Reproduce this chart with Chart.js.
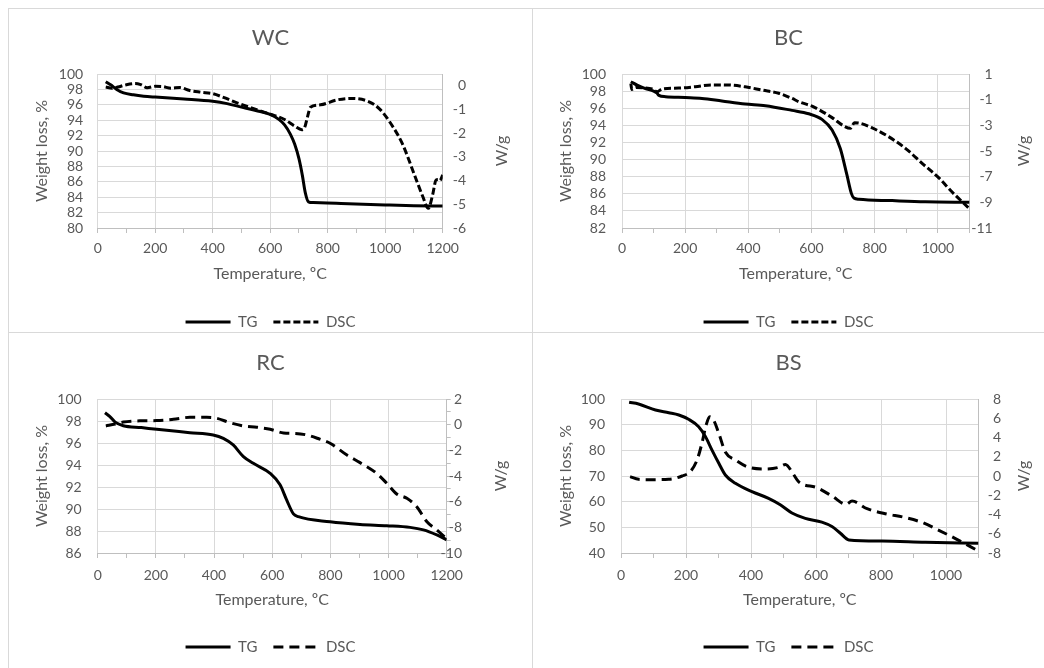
<!DOCTYPE html>
<html>
<head>
<meta charset="utf-8">
<script src="https://cdn.jsdelivr.net/npm/chart.js@4.4.1/dist/chart.umd.min.js"></script>
<style>
  body { margin: 0; background: #fff; width: 1044px; height: 668px; overflow: hidden; position: relative; }
  .box { position: absolute; }
  .rule { position: absolute; background: #d9d9d9; z-index: 5; }
</style>
</head>
<body>
<div class="rule" style="left:8px;top:8px;width:1036px;height:1px"></div>
<div class="rule" style="left:8px;top:332px;width:1036px;height:1px"></div>
<div class="rule" style="left:8px;top:8px;width:1px;height:660px"></div>
<div class="rule" style="left:532px;top:8px;width:1px;height:660px"></div>

<div class="box" style="left:9px;top:9px;width:523px;height:331px"><canvas id="js--chart--1"></canvas></div>
<div class="box" style="left:533px;top:9px;width:511px;height:331px"><canvas id="js--chart--2"></canvas></div>
<div class="box" style="left:9px;top:333px;width:523px;height:335px"><canvas id="js--chart--3"></canvas></div>
<div class="box" style="left:533px;top:333px;width:511px;height:335px"><canvas id="js--chart--4"></canvas></div>

<script>
// WC
const wcTgTemp = [28, 45, 66, 90, 124, 160, 200, 300, 400, 450, 500, 550, 600, 630, 650, 670, 685, 700, 712, 722, 733, 750, 830, 1000, 1100, 1200];
const wcTg = [99.0, 98.6, 98.0, 97.55, 97.3, 97.12, 97.0, 96.75, 96.45, 96.15, 95.7, 95.25, 94.75, 94.1, 93.4, 92.2, 90.9, 89.0, 86.8, 84.6, 83.4, 83.3, 83.2, 83.0, 82.9, 82.85];
const wcDscTemp = [28, 50, 70, 100, 130, 150, 172, 200, 225, 255, 285, 320, 360, 400, 440, 480, 540, 600, 650, 685, 710, 720, 730, 740, 775, 830, 880, 940, 980, 1020, 1060, 1100, 1130, 1150, 1165, 1177, 1185, 1190, 1200];
const wcDsc = [-0.05, -0.1, -0.05, 0.05, 0.1, 0.05, -0.08, -0.02, -0.03, -0.1, -0.07, -0.2, -0.27, -0.33, -0.5, -0.7, -0.95, -1.2, -1.42, -1.7, -1.85, -1.75, -1.3, -0.9, -0.8, -0.6, -0.53, -0.65, -0.97, -1.6, -2.45, -3.7, -4.65, -5.17, -4.6, -3.97, -3.95, -4.0, -3.76];
const wcLeftTicks = [80, 82, 84, 86, 88, 90, 92, 94, 96, 98, 100];
const wcRightTicks = [-6, -5, -4, -3, -2, -1, 0];

// BC
const bcTgTemp = [28, 48, 74, 100, 110, 117, 138, 200, 253, 316, 390, 454, 538, 591, 633, 665, 691, 712, 726, 734, 750, 855, 960, 1100];
const bcTg = [99.1, 98.7, 98.3, 98.0, 97.8, 97.5, 97.35, 97.25, 97.15, 96.85, 96.5, 96.3, 95.75, 95.35, 94.7, 93.45, 91.3, 88.2, 86.05, 85.5, 85.35, 85.2, 85.07, 85.0];
const bcDscTemp = [28, 31, 45, 70, 95, 111, 127, 180, 232, 285, 338, 390, 443, 496, 538, 560, 605, 665, 702, 723, 736, 750, 792, 845, 900, 950, 1003, 1045, 1100];
const bcDsc = [0.25, -0.2, -0.05, -0.08, -0.17, -0.38, -0.17, -0.1, 0.01, 0.15, 0.14, 0.0, -0.25, -0.5, -0.9, -1.16, -1.55, -2.4, -3.05, -3.23, -2.8, -2.82, -3.2, -3.9, -4.85, -5.96, -7.1, -8.2, -9.5];
const bcLeftTicks = [82, 84, 86, 88, 90, 92, 94, 96, 98, 100];
const bcRightTicks = [-11, -9, -7, -5, -3, -1, 1];

// RC
const rcTgTemp = [25, 42, 60, 88, 150, 203, 317, 397, 432, 466, 501, 535, 593, 627, 650, 673, 690, 799, 902, 994, 1074, 1120, 1166, 1200];
const rcTg = [98.75, 98.4, 97.9, 97.57, 97.4, 97.24, 96.94, 96.73, 96.42, 95.82, 94.76, 94.15, 93.24, 92.2, 90.8, 89.55, 89.3, 88.84, 88.6, 88.48, 88.33, 88.1, 87.64, 87.2];
const rcDscTemp = [28, 60, 88, 145, 203, 260, 317, 375, 409, 455, 501, 547, 593, 639, 678, 719, 760, 799, 857, 902, 959, 994, 1028, 1063, 1097, 1132, 1166, 1200];
const rcDsc = [-0.1, 0.05, 0.2, 0.3, 0.32, 0.42, 0.57, 0.57, 0.5, 0.15, -0.1, -0.2, -0.36, -0.65, -0.68, -0.8, -1.1, -1.45, -2.37, -2.96, -3.79, -4.57, -5.4, -5.74, -6.39, -7.56, -8.2, -8.9];
const rcLeftTicks = [86, 88, 90, 92, 94, 96, 98, 100];
const rcRightTicks = [-10, -9, -8, -7, -6, -5, -4, -3, -2, -1, 0, 1, 2];

// BS
const bsTgTemp = [25, 54, 106, 147, 178, 208, 239, 260, 280, 301, 321, 352, 403, 454, 490, 526, 567, 618, 649, 675, 701, 803, 936, 1100];
const bsTg = [98.7, 98.05, 95.7, 94.66, 93.77, 92.1, 89.2, 85.3, 80.1, 74.95, 70.4, 67.16, 63.9, 61.3, 58.8, 55.6, 53.5, 52.0, 50.3, 47.7, 45.1, 44.7, 44.2, 43.8];
const bsDscTemp = [28, 54, 95, 147, 188, 213, 234, 249, 262, 273, 285, 301, 321, 352, 393, 444, 485, 506, 530, 547, 603, 650, 693, 711, 757, 818, 870, 926, 978, 1029, 1100];
const bsDsc = [-0.07, -0.35, -0.38, -0.35, 0.0, 0.45, 1.66, 3.4, 5.3, 6.16, 5.8, 4.43, 2.5, 1.66, 0.9, 0.73, 0.9, 1.2, 0.2, -0.62, -1.22, -2.1, -2.95, -2.6, -3.4, -3.95, -4.28, -4.82, -5.64, -6.5, -7.8];
const bsLeftTicks = [40, 50, 60, 70, 80, 90, 100];
const bsRightTicks = [-8, -6, -4, -2, 0, 2, 4, 6, 8];

const textGray = '#595959';
const gridGray = '#d9d9d9';
const axisGray = '#bfbfbf';
const fontName = 'Lato';

function toPoints(xs, ys) {
    return xs.map(function(x, i){ return {x: x, y: ys[i]}; });
}

// right axis: labels right aligned and the title turned like the left one
const rightAxis = {
    id: 'rightAxis',
    afterDraw: function(chart, args, opts) {
        const ctx = chart.ctx;
        const area = chart.chartArea;
        const scale = chart.scales.y1;
        ctx.save();
        ctx.fillStyle = textGray;
        ctx.font = '14px ' + fontName;
        ctx.textAlign = 'right';
        ctx.textBaseline = 'middle';
        opts.ticks.forEach(function(v){
            if (v % opts.step === 0) {
                ctx.fillText(String(v), opts.labelX, scale.getPixelForValue(v));
            }
        });
        ctx.translate(opts.titleX, (area.top + area.bottom) / 2);
        ctx.rotate(-Math.PI / 2);
        ctx.font = '16px ' + fontName;
        ctx.textAlign = 'center';
        ctx.fillText(opts.text, 0, 0);
        ctx.restore();
    }
};

function makeChart(id, p) {
    const config = {
        type: 'line',
        data: {
            datasets: [
                {
                    label: 'TG',
                    data: toPoints(p.tgTemp, p.tg),
                    yAxisID: 'y',
                    borderColor: '#000',
                    borderWidth: 3,
                    pointRadius: 0,
                    cubicInterpolationMode: 'monotone'
                },
                {
                    label: 'DSC',
                    data: toPoints(p.dscTemp, p.dsc),
                    yAxisID: 'y1',
                    borderColor: '#000',
                    borderWidth: 3,
                    borderDash: p.dash,
                    pointRadius: 0,
                    cubicInterpolationMode: 'monotone'
                }
            ]
        },
        options: {
            responsive: true,
            maintainAspectRatio: false,
            animation: false,
            layout: { padding: { left: 0, right: 0, top: 0, bottom: p.padBottom } },
            plugins: {
                title: {
                    display: true,
                    text: p.title,
                    color: textGray,
                    font: { family: fontName, size: 22, weight: 'normal' },
                    padding: { top: p.titleTop, bottom: p.titleBottom }
                },
                legend: {
                    position: 'bottom',
                    labels: {
                        usePointStyle: true,
                        pointStyle: 'line',
                        pointStyleWidth: 45,
                        color: textGray,
                        font: { family: fontName, size: 15 },
                        padding: 16,
                        generateLabels: function(chart) {
                            const items = Chart.defaults.plugins.legend.labels.generateLabels(chart);
                            items.forEach(function(item){
                                item.lineDash = chart.data.datasets[item.datasetIndex].borderDash || [];
                                item.lineWidth = 3;
                            });
                            return items;
                        }
                    }
                },
                tooltip: { enabled: false },
                rightAxis: { text: 'W/g', titleX: p.sideX, labelX: p.rightLabelX, ticks: p.rightTicks, step: p.rightLabelStep }
            },
            scales: {
                x: {
                    type: 'linear',
                    min: 0,
                    max: p.xMax,
                    ticks: {
                        stepSize: 100,
                        autoSkip: false,
                        maxRotation: 0,
                        color: textGray,
                        font: { family: fontName, size: 14 },
                        padding: p.xTickPad,
                        callback: function(v){ return v % 200 === 0 ? String(v) : ''; }
                    },
                    grid: {
                        color: function(ctx){ return ctx.tick && ctx.tick.value % 200 === 0 ? gridGray : 'rgba(0,0,0,0)'; },
                        tickColor: axisGray,
                        tickLength: 5
                    },
                    border: { color: axisGray },
                    title: {
                        display: true,
                        text: 'Temperature, ºC',
                        color: textGray,
                        font: { family: fontName, size: 16 },
                        padding: p.xTitlePad
                    },
                    afterFit: function(s){ s.height = p.xHeight; }
                },
                y: {
                    position: 'left',
                    min: p.leftTicks[0],
                    max: p.leftTicks[p.leftTicks.length - 1],
                    afterBuildTicks: function(s){ s.ticks = p.leftTicks.map(function(v){ return {value: v}; }); },
                    ticks: {
                        autoSkip: false,
                        color: textGray,
                        font: { family: fontName, size: 14 },
                        padding: p.leftPad,
                        callback: function(v){ return String(v); }
                    },
                    grid: { color: gridGray, drawTicks: false },
                    border: { display: false },
                    title: {
                        display: true,
                        text: 'Weight loss, %',
                        color: textGray,
                        font: { family: fontName, size: 16 },
                        padding: 23
                    },
                    afterFit: function(s){ s.width = p.leftW; }
                },
                y1: {
                    position: 'right',
                    min: p.rightMin,
                    max: p.rightMax,
                    afterBuildTicks: function(s){ s.ticks = p.rightTicks.map(function(v){ return {value: v}; }); },
                    ticks: { display: false, autoSkip: false },
                    grid: { drawOnChartArea: false, drawTicks: p.rightMarks, tickLength: 4, tickColor: axisGray },
                    border: { color: axisGray },
                    afterFit: function(s){ s.width = p.rightW; }
                }
            }
        },
        plugins: [rightAxis]
    };
    return new Chart(document.getElementById(id), config);
}

makeChart('js--chart--1', {
    title: 'WC', tgTemp: wcTgTemp, tg: wcTg, dscTemp: wcDscTemp, dsc: wcDsc, dash: [7, 3],
    xMax: 1200, leftTicks: wcLeftTicks, rightTicks: wcRightTicks, rightMin: -6, rightMax: 0.5, rightLabelStep: 1,
    titleTop: 15.8, titleBottom: 22.8, padBottom: 0.5, xHeight: 70.5, xTickPad: 7, xTitlePad: 15,
    leftW: 88.7, leftPad: 14.5, rightW: 89.3, rightMarks: false, rightLabelX: 457, sideX: 492.7
});

makeChart('js--chart--2', {
    title: 'BC', tgTemp: bcTgTemp, tg: bcTg, dscTemp: bcDscTemp, dsc: bcDsc, dash: [7, 3],
    xMax: 1100, leftTicks: bcLeftTicks, rightTicks: bcRightTicks, rightMin: -11, rightMax: 1, rightLabelStep: 1,
    titleTop: 15.8, titleBottom: 22.8, padBottom: 0.5, xHeight: 70.5, xTickPad: 7, xTitlePad: 15,
    leftW: 89, leftPad: 16, rightW: 74.5, rightMarks: false, rightLabelX: 459.7, sideX: 490.7
});

makeChart('js--chart--3', {
    title: 'RC', tgTemp: rcTgTemp, tg: rcTg, dscTemp: rcDscTemp, dsc: rcDsc, dash: [10, 6],
    xMax: 1200, leftTicks: rcLeftTicks, rightTicks: rcRightTicks, rightMin: -10, rightMax: 2, rightLabelStep: 2,
    titleTop: 16.8, titleBottom: 22.8, padBottom: 3.5, xHeight: 70.5, xTickPad: 9, xTitlePad: 14,
    leftW: 88.7, leftPad: 16, rightW: 85.3, rightMarks: true, rightLabelX: 453, sideX: 492
});

makeChart('js--chart--4', {
    title: 'BS', tgTemp: bsTgTemp, tg: bsTg, dscTemp: bsDscTemp, dsc: bsDsc, dash: [10, 6],
    xMax: 1100, leftTicks: bsLeftTicks, rightTicks: bsRightTicks, rightMin: -8, rightMax: 8, rightLabelStep: 1,
    titleTop: 16.8, titleBottom: 22.8, padBottom: 3.5, xHeight: 70.5, xTickPad: 9, xTitlePad: 14,
    leftW: 88, leftPad: 16, rightW: 65.5, rightMarks: false, rightLabelX: 468, sideX: 490.7
});
</script>
</body>
</html>
